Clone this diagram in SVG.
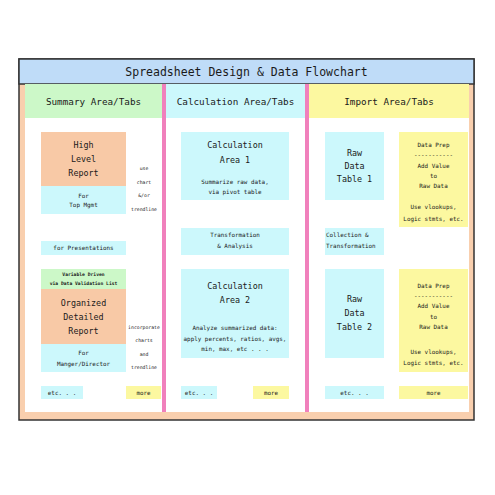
<svg xmlns="http://www.w3.org/2000/svg" width="495" height="495" viewBox="0 0 495 495">
<style>
text{font-family:"DejaVu Sans Mono","Liberation Mono",monospace;fill:#1a1a1a;text-anchor:middle}
.t{font-size:11.5px}
.h{font-size:9.3px}
.b{font-size:8.4px}
.s{font-size:5.9px}
.x{font-size:4.8px}
.v{font-size:4.7px;font-weight:bold}
.cy{fill:#ccf8fc}
.yl{fill:#fcf8a0}
.or{fill:#f8c9a6}
.gr{fill:#ccf8c8}
.l{text-anchor:start}
</style>
<rect width="495" height="495" fill="#ffffff"/>
<g id="frame">
<rect x="19" y="59" width="455" height="361" fill="#f9cfae" stroke="#333" stroke-width="1.5"/>
<rect x="25" y="84" width="444" height="328" fill="#ffffff"/>
<rect x="19" y="59" width="455" height="25" fill="#bfdcf8" stroke="#333" stroke-width="1.5"/>
<text class="t" x="246.5" y="76">Spreadsheet Design &amp; Data Flowchart</text>
</g>
<g id="headers">
<rect x="25" y="84" width="137" height="34" class="gr"/>
<rect x="166" y="84" width="139" height="34" class="cy"/>
<rect x="309" y="84" width="160" height="34" class="yl"/>
<text class="h" x="93.5" y="105">Summary Area/Tabs</text>
<text class="h" x="235.5" y="105">Calculation Area/Tabs</text>
<text class="h" x="389" y="105">Import Area/Tabs</text>
</g>
<g id="dividers">
<rect x="162" y="84" width="4" height="328" fill="#f080bc"/>
<rect x="305" y="84" width="4" height="328" fill="#f080bc"/>
</g>
<g id="high-level-report">
<rect x="41" y="132" width="85" height="54" class="or"/>
<text class="b" x="83.5" y="148">High</text>
<text class="b" x="83.5" y="162">Level</text>
<text class="b" x="83.5" y="176">Report</text>
</g>
<g id="top-mgmt">
<rect x="41" y="186" width="85" height="28" class="cy"/>
<text class="s" x="83.5" y="198">For</text>
<text class="s" x="83.5" y="207">Top Mgmt</text>
</g>
<g id="note-chart">
<text class="x" x="144" y="169.5">use</text>
<text class="x" x="144" y="183.5">chart</text>
<text class="x" x="144" y="196.5">&amp;/or</text>
<text class="x" x="144" y="210.5">trendline</text>
</g>
<g id="presentations">
<rect x="41" y="241" width="85" height="14" class="cy"/>
<text class="s" x="83.5" y="250">for Presentations</text>
</g>
<g id="variable-driven">
<rect x="41" y="269" width="85" height="20" class="gr"/>
<text class="v" x="83.5" y="275.5">Variable Driven</text>
<text class="v" x="83.5" y="284.5">via Data Validation List</text>
</g>
<g id="detailed-report">
<rect x="41" y="289" width="85" height="55" class="or"/>
<text class="b" x="83.5" y="306">Organized</text>
<text class="b" x="83.5" y="320">Detailed</text>
<text class="b" x="83.5" y="334">Report</text>
</g>
<g id="manager">
<rect x="41" y="344" width="85" height="28" class="cy"/>
<text class="s" x="83.5" y="355">For</text>
<text class="s" x="83.5" y="366">Manger/Director</text>
</g>
<g id="note-incorporate">
<text class="x" x="144" y="328.5">incorporate</text>
<text class="x" x="144" y="341.5">charts</text>
<text class="x" x="144" y="355.5">and</text>
<text class="x" x="144" y="368.5">trendline</text>
</g>
<g id="summary-etc">
<rect x="41" y="386" width="42" height="13" class="cy"/>
<text class="s" x="62" y="394.5">etc. . .</text>
</g>
<g id="summary-more">
<rect x="126" y="386" width="35" height="13" class="yl"/>
<text class="s" x="143.5" y="394.5">more</text>
</g>
<g id="calc-area-1">
<rect x="181" y="132" width="108" height="68" class="cy"/>
<text class="b" x="235" y="148">Calculation</text>
<text class="b" x="235" y="163">Area 1</text>
<text class="s" x="235" y="184">Summarize raw data,</text>
<text class="s" x="235" y="194">via pivot table</text>
</g>
<g id="transformation-analysis">
<rect x="181" y="228" width="108" height="27" class="cy"/>
<text class="s" x="235" y="237">Transformation</text>
<text class="s" x="235" y="248">&amp; Analysis</text>
</g>
<g id="calc-area-2">
<rect x="181" y="269" width="108" height="89" class="cy"/>
<text class="b" x="235" y="289">Calculation</text>
<text class="b" x="235" y="303">Area 2</text>
<text class="s" x="235" y="330">Analyze summarized data:</text>
<text class="s" x="235" y="341">apply percents, ratios, avgs,</text>
<text class="s" x="235" y="351">min, max, etc . . .</text>
</g>
<g id="calc-etc">
<rect x="181" y="386" width="36" height="13" class="cy"/>
<text class="s" x="199" y="394.5">etc. . .</text>
</g>
<g id="calc-more">
<rect x="253" y="386" width="36" height="13" class="yl"/>
<text class="s" x="271" y="394.5">more</text>
</g>
<g id="raw-data-1">
<rect x="325" y="132" width="59" height="68" class="cy"/>
<text class="b" x="354.5" y="156">Raw</text>
<text class="b" x="354.5" y="169">Data</text>
<text class="b" x="354.5" y="182">Table 1</text>
</g>
<g id="data-prep-1">
<rect x="399" y="132" width="69" height="95" class="yl"/>
<text class="s" x="433.5" y="147">Data Prep</text>
<text class="s" x="433.5" y="157">-----------</text>
<text class="s" x="433.5" y="168">Add Value</text>
<text class="s" x="433.5" y="178">to</text>
<text class="s" x="433.5" y="188">Raw Data</text>
<text class="s" x="433.5" y="209">Use vlookups,</text>
<text class="s" x="433.5" y="221">Logic stmts, etc.</text>
</g>
<g id="collection">
<rect x="325" y="228" width="59" height="27" class="cy"/>
<text class="s l" x="326" y="237">Collection &amp;</text>
<text class="s l" x="326" y="248">Transformation</text>
</g>
<g id="raw-data-2">
<rect x="325" y="269" width="59" height="89" class="cy"/>
<text class="b" x="354.5" y="302">Raw</text>
<text class="b" x="354.5" y="316">Data</text>
<text class="b" x="354.5" y="330">Table 2</text>
</g>
<g id="data-prep-2">
<rect x="399" y="269" width="69" height="103" class="yl"/>
<text class="s" x="433.5" y="288">Data Prep</text>
<text class="s" x="433.5" y="298">-----------</text>
<text class="s" x="433.5" y="308">Add Value</text>
<text class="s" x="433.5" y="319">to</text>
<text class="s" x="433.5" y="329">Raw Data</text>
<text class="s" x="433.5" y="354">Use vlookups,</text>
<text class="s" x="433.5" y="365">Logic stmts, etc.</text>
</g>
<g id="import-etc">
<rect x="325" y="386" width="59" height="13" class="cy"/>
<text class="s" x="354.5" y="394.5">etc. . .</text>
</g>
<g id="import-more">
<rect x="399" y="386" width="69" height="13" class="yl"/>
<text class="s" x="433.5" y="394.5">more</text>
</g>
<g id="connectors"></g>
</svg>
